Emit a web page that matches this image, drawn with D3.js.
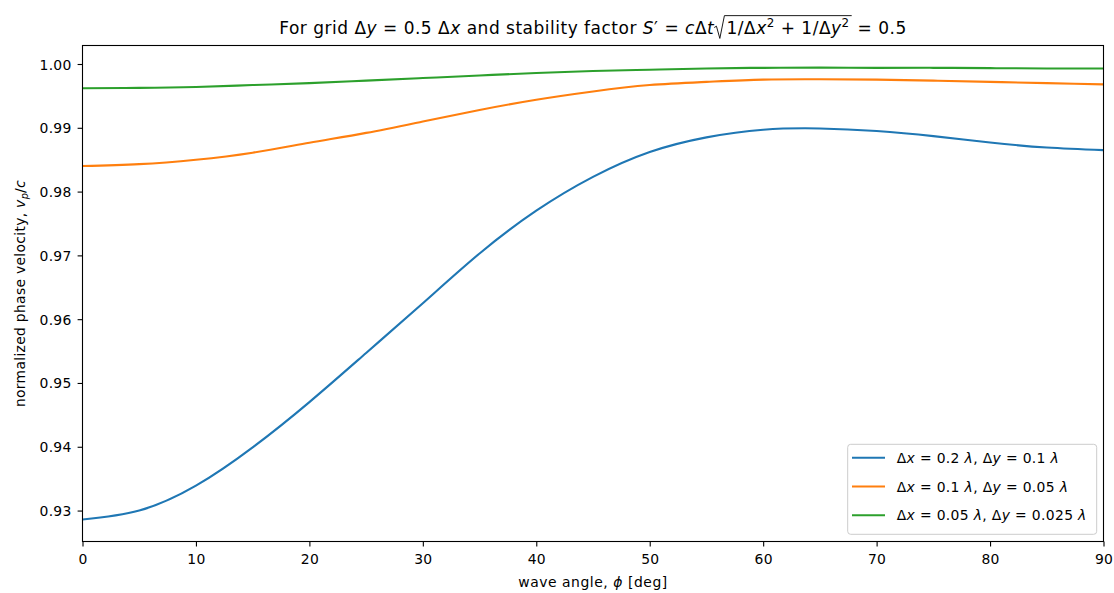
<!DOCTYPE html>
<html>
<head>
<meta charset="utf-8">
<script src="https://cdn.jsdelivr.net/npm/d3@7"></script>
<style>
  body { margin: 0; background: #fff; }
  text { font-family: "DejaVu Sans", sans-serif; fill: #000; white-space: pre; }
</style>
</head>
<body>
<svg width="1114" height="593"></svg>
<script>
// values, every 5 degrees
const angles = [0, 5, 10, 15, 20, 25, 30, 35, 40, 45, 50, 55, 60, 65, 70, 75, 80, 85, 90];
const coarse = [0.9286, 0.9300, 0.9339, 0.9399, 0.9470, 0.9547, 0.9625, 0.9703, 0.9770, 0.9823,
                0.9862, 0.9885, 0.9897, 0.9899, 0.9895, 0.9887, 0.9877, 0.9869, 0.9865];
const medium = [0.9840, 0.9843, 0.9850, 0.9861, 0.98765, 0.9892, 0.9910, 0.9928, 0.9944, 0.9957,
                0.9967, 0.9972, 0.99755, 0.9976, 0.99755, 0.9974, 0.9972, 0.9970, 0.9968];
const fine   = [0.9962, 0.99625, 0.9964, 0.9967, 0.9970, 0.9974, 0.9978, 0.9982, 0.9986, 0.9989,
                0.9991, 0.9993, 0.9994, 0.99943, 0.9994, 0.9994, 0.99935, 0.9993, 0.9993];
const seriesColors = ["#1f77b4", "#ff7f0e", "#2ca02c"];
const xTicks = [0, 10, 20, 30, 40, 50, 60, 70, 80, 90];
const yTicks = [0.93, 0.94, 0.95, 0.96, 0.97, 0.98, 0.99, 1.00];

// little mathtext-ish helpers: regular, italic, superscript, subscript
const R = t => ({ t });
const I = t => ({ t, i: true });
const SUP = t => ({ t, sup: true });
const SUB = (t, i) => ({ t, sub: true, i });

const legendLabels = [
  [R("Δ"), I("x"), R(" = 0.2 "), I("λ"), R(", "), R("Δ"), I("y"), R(" = 0.1 "), I("λ")],
  [R("Δ"), I("x"), R(" = 0.1 "), I("λ"), R(", "), R("Δ"), I("y"), R(" = 0.05 "), I("λ")],
  [R("Δ"), I("x"), R(" = 0.05 "), I("λ"), R(", "), R("Δ"), I("y"), R(" = 0.025 "), I("λ")]
];
const titleParts = [
  R("For grid "), R("Δ"), I("y"), R(" = 0.5 "), R("Δ"), I("x"), R(" and stability factor "),
  I("S"), R("′"), R(" = "), I("c"), R("Δ"), I("t"),
  { sqrt: [R("1/Δ"), I("x"), SUP("2"), R(" + 1/Δ"), I("y"), SUP("2")] },
  R(" = 0.5")
];
const xLabelParts = [R("wave angle, "), I("ϕ"), R(" [deg]")];
const yLabelParts = [R("normalized phase velocity, "), I("v"), SUB("p", true), R("/"), I("c")];

const svg = d3.select("svg");
const mLeft = 82.5, mRight = 1103.5, mTop = 45.5, mBottom = 541.5;
const fs = 13.9;

const x = d3.scaleLinear().domain([0, 90]).range([mLeft, mRight]);
const y = d3.scaleLinear().domain([0.92515, 1.0029]).range([mBottom, mTop]);

function placePart(g, p, px, size, ls) {
  if (p.sqrt) {
    const x0 = px;
    let xe = x0 + size * 0.72;
    p.sqrt.forEach(function(q) { xe = placePart(g, q, xe, size, ls); });
    xe += size * 0.12;
    g.append("path")
      .attr("d", "M" + x0 + "," + (-size * 0.38) +
        " L" + (x0 + size * 0.13) + "," + (-size * 0.46) +
        " L" + (x0 + size * 0.33) + "," + (size * 0.26) +
        " L" + (x0 + size * 0.6) + "," + (-size * 1.08) +
        " L" + xe + "," + (-size * 1.08))
      .attr("fill", "none")
      .attr("stroke", "#000")
      .attr("stroke-width", 0.9);
    return xe;
  }
  let f = size, dy = 0;
  if (p.sup) { f = size * 0.7; dy = -size * 0.42; }
  if (p.sub) { f = size * 0.7; dy = size * 0.22; }
  const t = g.append("text")
    .attr("x", px)
    .attr("y", dy)
    .attr("font-size", f)
    .attr("letter-spacing", ls)
    .attr("font-style", p.i ? "italic" : null)
    .text(p.t);
  return px + t.node().getComputedTextLength();
}

function mathText(parent, parts, size, ls) {
  const g = parent.append("g");
  let w = 0;
  parts.forEach(function(p) { w = placePart(g, p, w, size, ls); });
  return { g: g, width: w };
}

// axes
const xAxis = svg.append("g")
  .attr("transform", "translate(0," + mBottom + ")")
  .call(d3.axisBottom(x).tickValues(xTicks).tickFormat(d3.format("d"))
    .tickSize(4.9).tickPadding(7.7).tickSizeOuter(0));
const yAxis = svg.append("g")
  .attr("transform", "translate(" + mLeft + ",0)")
  .call(d3.axisLeft(y).tickValues(yTicks).tickFormat(d3.format(".2f"))
    .tickSize(4.9).tickPadding(6.1).tickSizeOuter(0));

[xAxis, yAxis].forEach(function(a) {
  a.select(".domain").remove();
  a.selectAll("line").attr("stroke", "#000").attr("stroke-width", 1.1);
  a.selectAll("text").attr("font-size", fs).attr("font-family", "DejaVu Sans")
    .attr("fill", "#000").attr("letter-spacing", 0.25);
});
yAxis.selectAll("text").attr("dy", "0.36em");

// lines
svg.append("clipPath").attr("id", "clip")
  .append("rect").attr("x", mLeft).attr("y", mTop).attr("width", mRight - mLeft).attr("height", mBottom - mTop);

const line = d3.line()
  .x(function(d, i) { return x(angles[i]); })
  .y(function(d) { return y(d); })
  .curve(d3.curveNatural);

[coarse, medium, fine].forEach(function(vals, k) {
  svg.append("path")
    .datum(vals)
    .attr("clip-path", "url(#clip)")
    .attr("fill", "none")
    .attr("stroke", seriesColors[k])
    .attr("stroke-width", 2.1)
    .attr("stroke-linecap", "square")
    .attr("d", line);
});

// frame
svg.append("rect")
  .attr("x", mLeft).attr("y", mTop)
  .attr("width", mRight - mLeft).attr("height", mBottom - mTop)
  .attr("fill", "none").attr("stroke", "#000").attr("stroke-width", 1.1);

// title
const title = mathText(svg, titleParts, 17, 0.5);
title.g.attr("transform", "translate(" + ((mLeft + mRight) / 2 - title.width / 2) + ",34)");

// axis labels
const xl = mathText(svg, xLabelParts, fs, 0.55);
xl.g.attr("transform", "translate(" + ((mLeft + mRight) / 2 - xl.width / 2) + ",587)");
const yl = mathText(svg, yLabelParts, fs, 0.3);
yl.g.attr("transform", "translate(24.5," + ((mTop + mBottom) / 2 + yl.width / 2) + ") rotate(-90)");

// legend
const legend = svg.append("g");
legend.append("rect")
  .attr("x", 847.7).attr("y", 444.3)
  .attr("width", 249).attr("height", 90)
  .attr("rx", 3)
  .attr("fill", "#fff").attr("fill-opacity", 0.8)
  .attr("stroke", "#cccccc").attr("stroke-width", 1);

legendLabels.forEach(function(parts, k) {
  const cy = 457.7 + k * 28.8;
  legend.append("line")
    .attr("x1", 852).attr("x2", 885)
    .attr("y1", cy).attr("y2", cy)
    .attr("stroke", seriesColors[k]).attr("stroke-width", 2.1);
  const m = mathText(legend, parts, fs, 0.35);
  m.g.attr("transform", "translate(896.7," + (cy + 5) + ")");
});
</script>
</body>
</html>
